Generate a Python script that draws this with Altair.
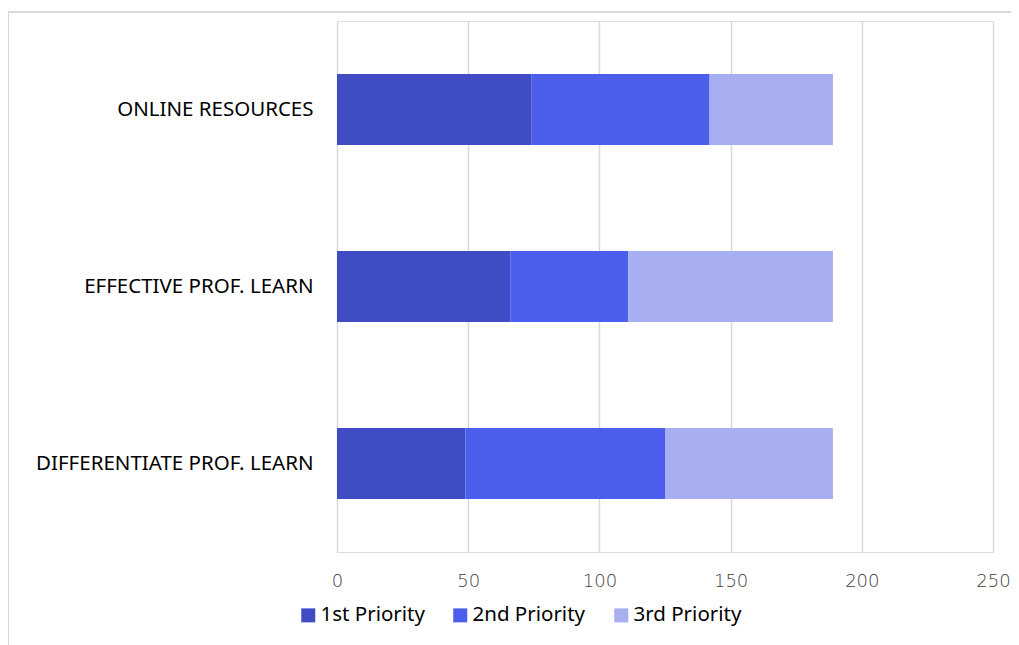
import altair as alt
import pandas as pd

categories = ["ONLINE RESOURCES", "EFFECTIVE PROF. LEARN", "DIFFERENTIATE PROF. LEARN"]
series = ["1st Priority", "2nd Priority", "3rd Priority"]
first = [74, 66, 49]
second = [68, 45, 76]
third = [47, 78, 64]
colors = ["#3F4CC4", "#4C5EEC", "#A8AEF2"]

rows = []
for i, c in enumerate(categories):
    for j, (s, vals) in enumerate(zip(series, [first, second, third])):
        rows.append({"category": c, "series": s, "value": vals[i], "order": j})
df = pd.DataFrame(rows)

bars = alt.Chart(df).mark_bar().encode(
    y=alt.Y("category:N", sort=categories, title=None,
            scale=alt.Scale(paddingInner=0.6, paddingOuter=0.3),
            axis=alt.Axis(labelFont="Noto Sans", labelFontSize=20.5, labelColor="#000000",
                          labelPadding=24, labelLimit=0, ticks=False, domain=False, grid=False)),
    x=alt.X("value:Q", title=None, stack="zero",
            scale=alt.Scale(domain=[0, 250], nice=False),
            axis=alt.Axis(values=[0, 50, 100, 150, 200, 250], labelFont="DejaVu Sans",
                          labelFontWeight=200, labelFontSize=18, labelFlush=False,
                          labelColor="#404040", labelPadding=20, ticks=False, domain=False,
                          grid=True, gridColor="#d9d9d9", gridWidth=1.5)),
    color=alt.Color("series:N", scale=alt.Scale(domain=series, range=colors),
                    legend=alt.Legend(title=None, orient="none", direction="horizontal",
                                      legendX=-39, legendY=584, symbolType="square",
                                      symbolSize=196, symbolStrokeWidth=0, labelFont="Noto Sans",
                                      labelFontSize=20.5, labelColor="#000000", labelOffset=2,
                                      columnPadding=25, padding=0)),
    order=alt.Order("order:Q"),
)

border = alt.Chart(pd.DataFrame({"a": [0]})).mark_rect(
    fill=None, stroke="#d9d9d9", strokeWidth=2, clip=False
).encode(
    x=alt.value(-329), x2=alt.value(720), y=alt.value(-9), y2=alt.value(660)
)

chart = alt.layer(border, bars).properties(
    width=656, height=531,
    autosize=alt.AutoSizeParams(type="none"),
    padding={"left": 329, "top": 13, "right": 18, "bottom": 93},
).configure_view(stroke=None).configure(background="#ffffff")

chart.save("out.html", embed_options={"renderer": "svg", "actions": False})
